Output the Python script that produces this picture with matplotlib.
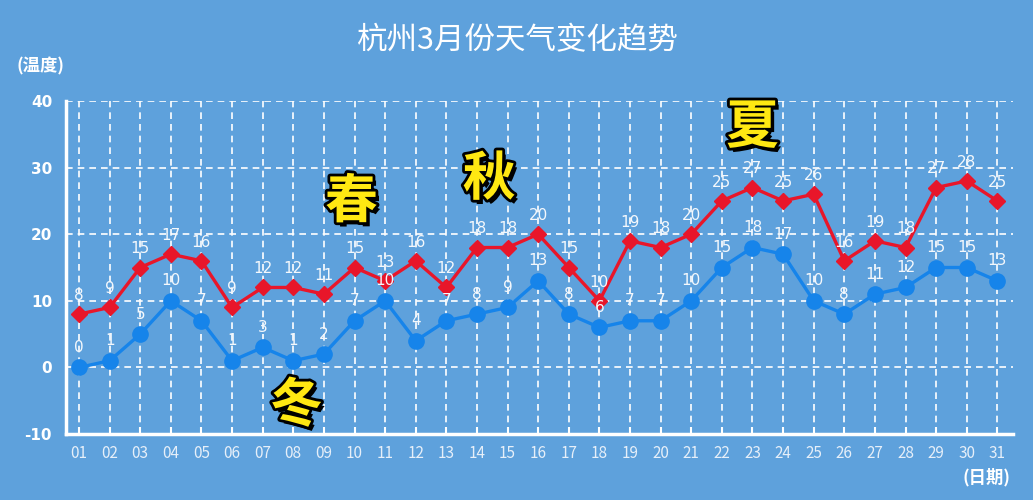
"""杭州3月份天气变化趋势 - line chart of daily high/low temperatures."""
import matplotlib
matplotlib.use("Agg")
import matplotlib.pyplot as plt
import matplotlib.patheffects as pe

plt.rcParams["font.family"] = ["Noto Sans CJK SC", "DejaVu Sans"]

days = [f"{d:02d}" for d in range(1, 32)]
high = [8, 9, 15, 17, 16, 9, 12, 12, 11, 15, 13, 16, 12, 18, 18, 20,
        15, 10, 19, 18, 20, 25, 27, 25, 26, 16, 19, 18, 27, 28, 25]
low = [0, 1, 5, 10, 7, 1, 3, 1, 2, 7, 10, 4, 7, 8, 9, 13,
       8, 6, 7, 7, 10, 15, 18, 17, 10, 8, 11, 12, 15, 15, 13]
y_ticks = [-10, 0, 10, 20, 30, 40]

# season words: (text, day position, temperature position)
seasons = [("春", 9.9, 24.8), ("秋", 14.4, 28.2), ("夏", 23.0, 36.0), ("冬", 8.1, -5.8)]

BG = "#5ea1dc"
RED = "#e8162a"
BLUE = "#1684ea"

fig = plt.figure(figsize=(10.33, 5.0), dpi=100, facecolor=BG)
ax = fig.add_axes([0.0639, 0.132, 0.917, 0.666], facecolor=BG)

x = list(range(1, 32))
ax.plot(x, high, color=RED, lw=2.4, marker="D", ms=8, zorder=4)
ax.plot(x, low, color=BLUE, lw=2.4, marker="o", ms=11, zorder=3)

for xi, v in zip(x, high):
    ax.annotate(str(v), (xi, v), xytext=(0, 8), textcoords="offset points",
                ha="center", va="bottom", color="#f4f8fc", fontsize=11,
                family="DejaVu Sans", zorder=6)
for xi, v in zip(x, low):
    ax.annotate(str(v), (xi, v), xytext=(0, 9), textcoords="offset points",
                ha="center", va="bottom", color="#f4f8fc", fontsize=11,
                family="DejaVu Sans", zorder=6)

season_fx = [
    pe.SimplePatchShadow(offset=(2.5, -3), shadow_rgbFace="black", alpha=1.0),
    pe.Stroke(linewidth=4, foreground="black"),
    pe.Normal(),
]
for txt, sx, sy in seasons:
    ax.text(sx, sy, txt, fontsize=38, weight="black", color="#ffe812",
            ha="center", va="center", zorder=8, path_effects=season_fx)

ax.set_xlim(0.575, 31.52)
ax.set_ylim(-10, 40)
ax.set_xticks(x)
ax.set_xticklabels(days, fontsize=11, color="#e6eff9")
ax.set_yticks(y_ticks)
ax.set_yticklabels([str(v) for v in y_ticks], fontsize=11, weight="bold", color="white",
                   family="DejaVu Sans")
ax.tick_params(axis="x", direction="in", length=5, width=1.5, color="white", pad=8)
ax.tick_params(axis="y", length=0, pad=10)

ax.grid(True, color="white", ls=(0, (4, 3)), lw=1.2, zorder=1)
for side in ["top", "right"]:
    ax.spines[side].set_visible(False)
for side in ["left", "bottom"]:
    ax.spines[side].set_color("white")
    ax.spines[side].set_linewidth(2.5)

fig.text(0.5, 0.918, "杭州3月份天气变化趋势", ha="center", va="center",
         fontsize=22, color="white")
fig.text(0.039, 0.868, "(温度)", ha="center", va="center", fontsize=12.5,
         weight="bold", color="white")
fig.text(0.955, 0.046, "(日期)", ha="center", va="center", fontsize=12.5,
         weight="bold", color="white")

fig.savefig("out.png", dpi=100, facecolor=BG)
